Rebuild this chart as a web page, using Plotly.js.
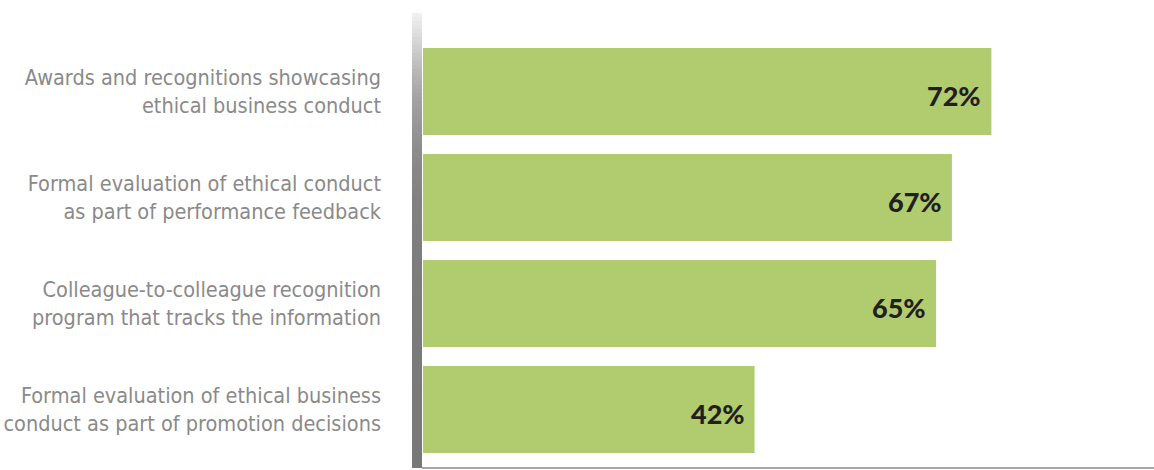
<!DOCTYPE html>
<html>
<head>
<meta charset="utf-8">
<script src="https://cdn.plot.ly/plotly-3.0.1.min.js"></script>
<style>html,body{margin:0;padding:0;background:#fff;}#chart{width:1154px;height:470px;}</style>
</head>
<body>
<div id="chart"></div>
<script>
const categories = [
  "Awards and recognitions showcasing<br>ethical business conduct",
  "Formal evaluation of ethical conduct<br>as part of performance feedback",
  "Colleague-to-colleague recognition<br>program that tracks the information",
  "Formal evaluation of ethical business<br>conduct as part of promotion decisions"
];
const values = [72, 67, 65, 42];
const valueLabels = values.map(v => v + "%");

const W = 1154, H = 470;
const mL = 423, mR = 0, mT = 13, mB = 2;
const plotW = W - mL - mR, plotH = H - mT - mB;

// gradient axis bar on the left (drawn as thin stacked rectangles)
const stops = [[13,242],[40,215],[70,185],[100,162],[150,140],[200,129],[300,123],[468,120]];
function grayAt(y){
  for(let i=0;i<stops.length-1;i++){
    const a=stops[i], b=stops[i+1];
    if(y>=a[0] && y<=b[0]){ const t=(y-a[0])/(b[0]-a[0]); return Math.round(a[1]+(b[1]-a[1])*t); }
  }
  return stops[stops.length-1][1];
}
const shapes = [];
const step = 4;
for(let y=13; y<468; y+=step){
  const g = grayAt(y+step/2);
  const col = `rgb(${g},${g},${g})`;
  shapes.push({type:'rect', xref:'paper', yref:'paper',
    x0: (412-mL)/plotW, x1: (422-mL)/plotW,
    y0: 1-((Math.min(y+step,468))-mT)/plotH, y1: 1-(y-mT)/plotH,
    fillcolor: col, line:{width:0}, layer:'above'});
}
// bottom baseline
shapes.push({type:'line', xref:'paper', yref:'paper', x0:(422-mL)/plotW, x1:1, y0:0, y1:0,
  line:{color:'#a8a8a8', width:2}});

const trace = {
  type:'bar', orientation:'h',
  x: values, y: categories,
  marker:{color:'#b1cb6f'},
  hoverinfo:'none'
};

const annotations = values.map((v,i) => ({
  x: v, y: categories[i], xref:'x', yref:'y',
  text: valueLabels[i], showarrow:false,
  xanchor:'right', yanchor:'middle', xshift:-8, yshift:-4,
  font:{family:'Lato, "Open Sans", sans-serif', size:27, color:'#231f20', weight:900}
}));

const layout = {
  width: W, height: H,
  margin:{l:mL, r:mR, t:mT, b:mB, pad:0},
  paper_bgcolor:'#ffffff', plot_bgcolor:'#ffffff',
  showlegend:false,
  bargap: 0.18,
  xaxis:{range:[0, 92.6], showgrid:false, zeroline:false, showticklabels:false, showline:false, fixedrange:true},
  yaxis:{type:'category', range:[3.552, -0.741], showgrid:false, zeroline:false, showline:false, ticks:'',
    ticklabelstandoff: 41,
    tickfont:{family:'"Liberation Sans Narrow", "DejaVu Sans Condensed", "Roboto Condensed", Roboto, sans-serif', size:21.5, color:'#8a8a8a'},
    fixedrange:true},
  shapes: shapes,
  annotations: annotations
};

Plotly.newPlot('chart', [trace], layout, {staticPlot:true, displayModeBar:false});
</script>
</body>
</html>
